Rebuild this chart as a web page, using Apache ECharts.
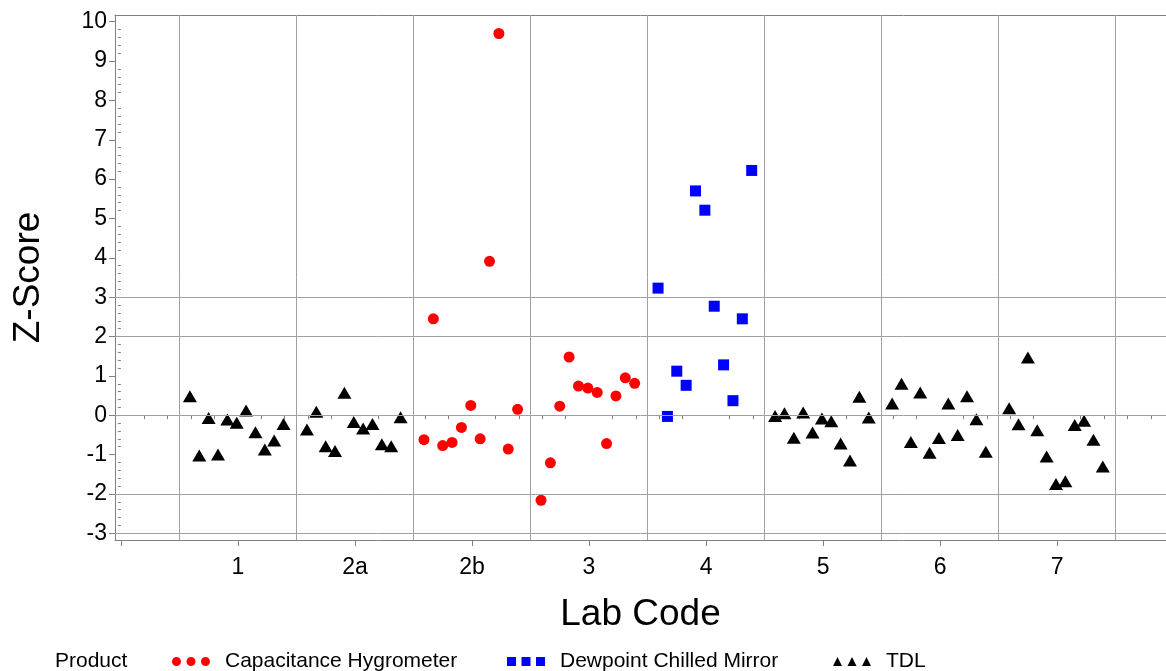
<!DOCTYPE html>
<html>
<head>
<meta charset="utf-8">
<script src="https://cdn.jsdelivr.net/npm/echarts@6/dist/echarts.min.js"></script>
<style>
html,body{margin:0;padding:0;background:#fff;}
#chart{width:1166px;height:671px;}
</style>
</head>
<body>
<div id="chart"></div>
<script>
// ---- data ----
const labCodes = ['1', '2a', '2b', '3', '4', '5', '6', '7'];
const labProduct = ['TDL', 'TDL', 'Capacitance Hygrometer', 'Capacitance Hygrometer',
  'Dewpoint Chilled Mirror', 'TDL', 'TDL', 'TDL'];
const zLab1  = [0.48, -1.02, -0.07, -1.00, -0.11, -0.19, 0.12, -0.43, -0.87, -0.64, -0.22];
const zLab2a = [-0.36, 0.09, -0.79, -0.91, 0.57, -0.17, -0.34, -0.22, -0.74, -0.79, -0.05];
const zLab2b = [-0.62, 2.45, -0.77, -0.69, -0.31, 0.25, -0.60, 3.91, 9.70, -0.86, 0.15];
const zLab3  = [-2.16, -1.21, 0.23, 1.48, 0.74, 0.69, 0.58, -0.72, 0.49, 0.95, 0.81];
const zLab4  = [3.23, -0.03, 1.12, 0.76, 5.70, 5.21, 2.77, 1.28, 0.37, 2.45, 6.22];
const zLab5  = [-0.02, 0.05, -0.57, 0.07, -0.44, -0.08, -0.15, -0.72, -1.15, 0.47, -0.06];
const zLab6  = [0.30, 0.80, -0.68, 0.58, -0.95, -0.58, 0.30, -0.50, 0.48, -0.10, -0.93];
const zLab7  = [0.18, -0.23, 1.47, -0.38, -1.05, -1.75, -1.68, -0.25, -0.14, -0.62, -1.30];
const zByLab = [zLab1, zLab2a, zLab2b, zLab3, zLab4, zLab5, zLab6, zLab7];
const products = ['Capacitance Hygrometer', 'Dewpoint Chilled Mirror', 'TDL'];
const yTicks = [-3, -2, -1, 0, 1, 2, 3, 4, 5, 6, 7, 8, 9, 10];
const xTicks = [0, 1, 2, 3, 4, 5, 6, 7, 8];
const refY = [-3, -2, 0, 2, 3];
const labBounds = [0.5, 1.5, 2.5, 3.5, 4.5, 5.5, 6.5, 7.5, 8.5];

// ---- layout / style ----
const STEP = 0.08;           // spacing of points within a lab column
const START = -0.41;         // offset of first point from lab center
const FONT = 'Liberation Sans, Arial, sans-serif';
const axisGray = '#808080';
const gridGray = '#a0a0a0';

function buildData(product) {
  const out = [];
  labCodes.forEach((code, i) => {
    if (labProduct[i] !== product) return;
    zByLab[i].forEach((z, k) => out.push([i + 1 + START + STEP * k, z]));
  });
  return out;
}

const xMinor = [];
for (let k = 0; k <= 44; k++) { const v = Math.round(k * 2) / 10; if (k % 5 !== 0) xMinor.push(v); }
const yMinor = [];
for (let k = -15; k <= 50; k++) { const v = Math.round(k * 2) / 10; if (k % 5 !== 0) yMinor.push(v); }

const styles = {
  'Capacitance Hygrometer': { symbol: 'circle', size: 11, color: '#ff0000',
    icon: 'path://M0,4.5a4.5,4.5 0 1,0 9,0a4.5,4.5 0 1,0 -9,0M14.5,4.5a4.5,4.5 0 1,0 9,0a4.5,4.5 0 1,0 -9,0M29,4.5a4.5,4.5 0 1,0 9,0a4.5,4.5 0 1,0 -9,0', left: 172 },
  'Dewpoint Chilled Mirror': { symbol: 'rect', size: 11, color: '#0000ff',
    icon: 'path://M0,0h9v9h-9zM14.5,0h9v9h-9zM29,0h9v9h-9z', left: 507 },
  'TDL': { symbol: 'triangle', size: [14, 12], color: '#000000',
    icon: 'path://M0,9L4.5,0L9,9zM14.5,9L19,0L23.5,9zM29,9L33.5,0L38,9z', left: 833 }
};

const series = [{
  type: 'scatter', name: 'ref', data: [], z: 1, silent: true,
  markLine: {
    silent: true, symbol: ['none', 'none'], label: { show: false }, animation: false,
    lineStyle: { color: gridGray, width: 1, type: 'solid' },
    emphasis: { disabled: true },
    data: labBounds.map(v => ({ xAxis: v })).concat(refY.map(v => ({ yAxis: v })))
  }
}];
products.forEach(p => {
  series.push({
    type: 'scatter', name: p, data: buildData(p), z: 3,
    symbol: styles[p].symbol, symbolSize: styles[p].size,
    itemStyle: { color: styles[p].color, opacity: 1 }
  });
});

const legends = products.map(p => ({
  data: [{ name: p, icon: styles[p].icon }],
  left: styles[p].left, top: 651, orient: 'horizontal',
  itemWidth: 38, itemHeight: 9, selectedMode: false, padding: 0,
  textStyle: { fontFamily: FONT, fontSize: 21, color: '#000', padding: [0, 0, 0, 10] }
}));

const chart = echarts.init(document.getElementById('chart'), null, { renderer: 'canvas' });
chart.setOption({
  animation: false,
  backgroundColor: '#ffffff',
  title: { text: 'Product', left: 55, top: 651, padding: 0,
    textStyle: { fontFamily: FONT, fontSize: 21, fontWeight: 'normal', color: '#000' } },
  legend: legends,
  grid: { left: 115, right: 0, top: 15, bottom: 131, containLabel: false },
  xAxis: [{
    type: 'value', min: -0.05, max: 8.93, position: 'bottom',
    name: 'Lab Code', nameLocation: 'middle', nameGap: 56,
    nameTextStyle: { fontFamily: FONT, fontSize: 37, color: '#000' },
    axisLine: { show: true, onZero: false, lineStyle: { color: axisGray, width: 1 } },
    axisTick: { show: true, customValues: xTicks, length: 6, lineStyle: { color: axisGray } },
    axisLabel: { show: true, customValues: xTicks.slice(1), margin: 16,
      fontFamily: FONT, fontSize: 23, color: '#000',
      formatter: v => labCodes[Math.round(v) - 1] || '' },
    splitLine: { show: false }
  }, {
    type: 'value', min: -0.05, max: 8.93, position: 'bottom', gridIndex: 0,
    axisLine: { show: false },
    axisTick: { show: true, customValues: xMinor, length: 4, lineStyle: { color: axisGray } },
    axisLabel: { show: false }, splitLine: { show: false }
  }, {
    type: 'value', min: -0.05, max: 8.93, position: 'top', gridIndex: 0,
    axisLine: { show: true, onZero: false, lineStyle: { color: axisGray, width: 1 } },
    axisTick: { show: false }, axisLabel: { show: false }, splitLine: { show: false }
  }],
  yAxis: [{
    type: 'value', min: -3.17, max: 10.17, position: 'left',
    name: 'Z-Score', nameLocation: 'middle', nameGap: 68, nameRotate: 90,
    nameTextStyle: { fontFamily: FONT, fontSize: 37, color: '#000' },
    axisLine: { show: true, onZero: false, lineStyle: { color: axisGray, width: 1 } },
    axisTick: { show: true, customValues: yTicks, length: 6, lineStyle: { color: axisGray } },
    axisLabel: { show: true, customValues: yTicks, margin: 8,
      fontFamily: FONT, fontSize: 23, color: '#000' },
    splitLine: { show: false }
  }, {
    type: 'value', min: -3.17, max: 10.17, position: 'left', gridIndex: 0,
    axisLine: { show: false },
    axisTick: { show: true, customValues: yMinor, length: 3, lineStyle: { color: axisGray } },
    axisLabel: { show: false }, splitLine: { show: false }
  }],
  series: series
});
</script>
</body>
</html>
